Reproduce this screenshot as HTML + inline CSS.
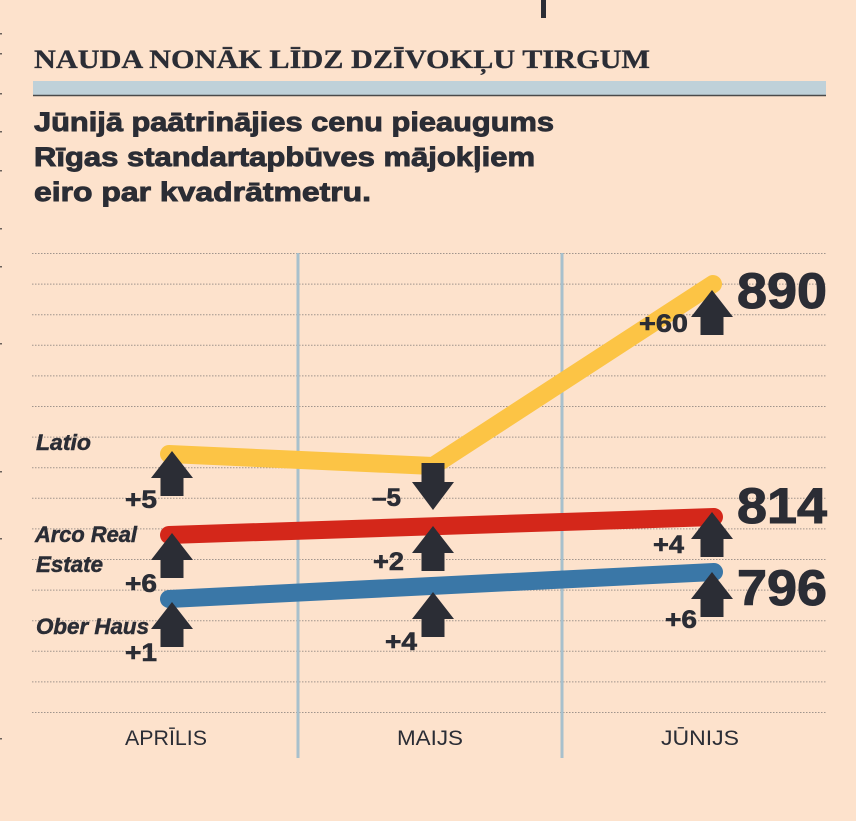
<!DOCTYPE html>
<html>
<head>
<meta charset="utf-8">
<style>
html,body{margin:0;padding:0;background:#fde2cc;}
svg{display:block;}
</style>
</head>
<body>
<svg width="856" height="821" viewBox="0 0 856 821" xmlns="http://www.w3.org/2000/svg">
<rect x="0" y="0" width="856" height="821" fill="#fde2cc"/>
<!-- top bar -->
<rect x="541" y="0" width="5" height="18" fill="#2b2d35"/>
<!-- left edge ticks -->
<g fill="#6b625c">
<rect x="0" y="33" width="2" height="1.5"/>
<rect x="0" y="53" width="2" height="1.5"/>
<rect x="0" y="93" width="2" height="1.5"/>
<rect x="0" y="131" width="2" height="1.5"/>
<rect x="0" y="170" width="2" height="1.5"/>
<rect x="0" y="228" width="2" height="1.5"/>
<rect x="0" y="266" width="2" height="1.5"/>
<rect x="0" y="343" width="2" height="1.5"/>
<rect x="0" y="471" width="2" height="1.5"/>
<rect x="0" y="538" width="2" height="1.5"/>
<rect x="0" y="738" width="2" height="1.5"/>
</g>
<!-- title -->
<text x="34" y="68" font-family="Liberation Serif, serif" font-weight="bold" font-size="26" fill="#2b2d35" stroke="#2b2d35" stroke-width="0.3" textLength="616" lengthAdjust="spacingAndGlyphs">NAUDA NONĀK LĪDZ DZĪVOKĻU TIRGUM</text>
<rect x="33" y="81" width="793" height="14" fill="#bfd1d9"/>
<line x1="33" y1="95.5" x2="826" y2="95.5" stroke="#4a4a4a" stroke-width="1.5"/>
<!-- subtitle -->
<g font-family="Liberation Sans, sans-serif" font-weight="bold" font-size="27" fill="#2b2d35" stroke="#2b2d35" stroke-width="0.9">
<text x="34" y="131" textLength="520" lengthAdjust="spacingAndGlyphs">Jūnijā paātrinājies cenu pieaugums</text>
<text x="34" y="166" textLength="501" lengthAdjust="spacingAndGlyphs">Rīgas standartapbūves mājokļiem</text>
<text x="34" y="201" textLength="337" lengthAdjust="spacingAndGlyphs">eiro par kvadrātmetru.</text>
</g>
<!-- gridlines -->
<g stroke="#a0948c" stroke-width="1" stroke-dasharray="1.5,1.5">
<line x1="32" y1="253.5" x2="827" y2="253.5"/>
<line x1="32" y1="284.1" x2="827" y2="284.1"/>
<line x1="32" y1="314.7" x2="827" y2="314.7"/>
<line x1="32" y1="345.3" x2="827" y2="345.3"/>
<line x1="32" y1="375.9" x2="827" y2="375.9"/>
<line x1="32" y1="406.5" x2="827" y2="406.5"/>
<line x1="32" y1="437.1" x2="827" y2="437.1"/>
<line x1="32" y1="467.7" x2="827" y2="467.7"/>
<line x1="32" y1="498.3" x2="827" y2="498.3"/>
<line x1="32" y1="528.9" x2="827" y2="528.9"/>
<line x1="32" y1="559.5" x2="827" y2="559.5"/>
<line x1="32" y1="590.1" x2="827" y2="590.1"/>
<line x1="32" y1="620.7" x2="827" y2="620.7"/>
<line x1="32" y1="651.3" x2="827" y2="651.3"/>
<line x1="32" y1="681.9" x2="827" y2="681.9"/>
<line x1="32" y1="712.5" x2="827" y2="712.5"/>
</g>
<!-- vertical separators -->
<rect x="296.5" y="253" width="3" height="505" fill="#a8c0cc"/>
<rect x="560.5" y="253" width="3" height="505" fill="#a8c0cc"/>
<!-- series lines -->
<g fill="none" stroke-linecap="round" stroke-linejoin="miter" stroke-width="18">
<polyline points="169,454 433,466 713,284" stroke="#fcc445"/>
<polyline points="169,535 714,517" stroke="#d4271a"/>
<polyline points="169,599 714,572" stroke="#3a77a7"/>
</g>
<!-- arrows -->
<g fill="#2b2d35">
<polygon points="172,451 193,478 183.5,478 183.5,496 160.5,496 160.5,478 151,478"/>
<polygon points="172,533 193,560 183.5,560 183.5,578 160.5,578 160.5,560 151,560"/>
<polygon points="172,602 193,629 183.5,629 183.5,647 160.5,647 160.5,629 151,629"/>
<polygon points="433,526 454,553 444.5,553 444.5,571 421.5,571 421.5,553 412,553"/>
<polygon points="433,592 454,619 444.5,619 444.5,637 421.5,637 421.5,619 412,619"/>
<polygon points="712,290 733,317 723.5,317 723.5,335 700.5,335 700.5,317 691,317"/>
<polygon points="712,512 733,539 723.5,539 723.5,557 700.5,557 700.5,539 691,539"/>
<polygon points="712,572 733,599 723.5,599 723.5,617 700.5,617 700.5,599 691,599"/>
<polygon points="421.5,463 444.5,463 444.5,482 454,482 433,510 412,482 421.5,482"/>
</g>
<!-- big values -->
<g font-family="Liberation Sans, sans-serif" font-weight="bold" font-size="50" fill="#2b2d35" stroke="#2b2d35" stroke-width="1">
<text x="737" y="308" textLength="90" lengthAdjust="spacingAndGlyphs">890</text>
<text x="737" y="523" textLength="90" lengthAdjust="spacingAndGlyphs">814</text>
<text x="737" y="605" textLength="90" lengthAdjust="spacingAndGlyphs">796</text>
</g>
<!-- deltas -->
<g font-family="Liberation Sans, sans-serif" font-weight="bold" font-size="25" fill="#2b2d35" stroke="#2b2d35" stroke-width="0.6">
<text x="125" y="508" textLength="32" lengthAdjust="spacingAndGlyphs">+5</text>
<text x="125" y="592" textLength="32" lengthAdjust="spacingAndGlyphs">+6</text>
<text x="125" y="661" textLength="32" lengthAdjust="spacingAndGlyphs">+1</text>
<text x="372" y="506" textLength="29" lengthAdjust="spacingAndGlyphs">–5</text>
<text x="373" y="570" textLength="31" lengthAdjust="spacingAndGlyphs">+2</text>
<text x="385" y="650" textLength="32" lengthAdjust="spacingAndGlyphs">+4</text>
<text x="639" y="332" textLength="49" lengthAdjust="spacingAndGlyphs">+60</text>
<text x="653" y="553" textLength="31" lengthAdjust="spacingAndGlyphs">+4</text>
<text x="665" y="628" textLength="32" lengthAdjust="spacingAndGlyphs">+6</text>
</g>
<!-- series labels -->
<g font-family="Liberation Sans, sans-serif" font-weight="bold" font-style="italic" font-size="22" fill="#2b2d35" stroke="#2b2d35" stroke-width="0.5">
<text x="36" y="450" textLength="55" lengthAdjust="spacingAndGlyphs">Latio</text>
<text x="35" y="542" textLength="102" lengthAdjust="spacingAndGlyphs">Arco Real</text>
<text x="36" y="572" textLength="67" lengthAdjust="spacingAndGlyphs">Estate</text>
<text x="36" y="634" textLength="113" lengthAdjust="spacingAndGlyphs">Ober Haus</text>
</g>
<!-- months -->
<g font-family="Liberation Sans, sans-serif" font-size="21" fill="#2b2d35" text-anchor="middle">
<text x="166" y="745" textLength="82" lengthAdjust="spacingAndGlyphs">APRĪLIS</text>
<text x="430" y="745" textLength="66" lengthAdjust="spacingAndGlyphs">MAIJS</text>
<text x="700" y="745" textLength="78" lengthAdjust="spacingAndGlyphs">JŪNIJS</text>
</g>
</svg>
</body>
</html>
